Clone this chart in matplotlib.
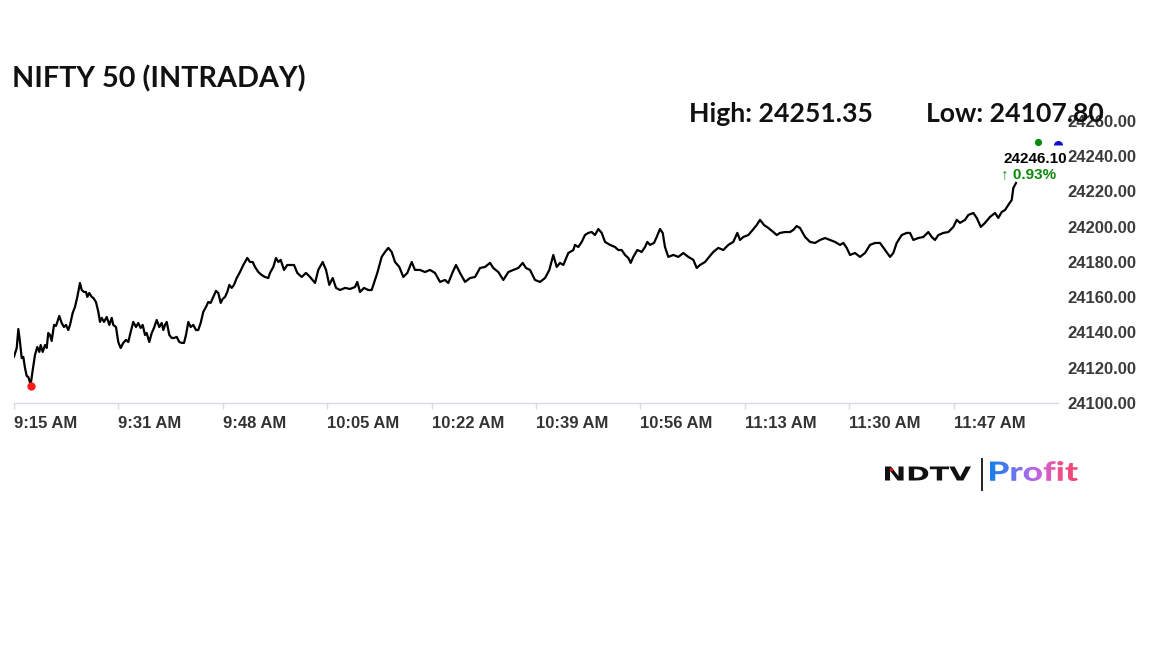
import numpy as np
import matplotlib
matplotlib.use("Agg")
import matplotlib.pyplot as plt
from matplotlib.textpath import TextPath
from matplotlib.patches import PathPatch
from matplotlib.font_manager import FontProperties
from matplotlib.transforms import Affine2D
from matplotlib.colors import LinearSegmentedColormap

# ---------------- data ----------------
minutes = [
    0.0, 0.44, 0.70, 0.97, 1.25, 1.51, 1.78, 2.06, 2.31, 2.70,
    3.03, 3.40, 3.77, 4.10, 4.32, 4.65, 5.02, 5.29, 5.55, 5.83,
    6.10, 6.48, 6.80, 7.33, 7.72, 8.09, 8.42, 8.79, 9.07, 9.50,
    9.87, 10.25, 10.68, 10.96, 11.33, 11.66, 11.87, 12.19, 12.58, 12.84,
    13.27, 13.65, 13.92, 14.20, 14.57, 15.01, 15.43, 15.82, 16.07, 16.51,
    16.88, 17.27, 17.69, 18.13, 18.50, 18.89, 19.31, 19.75, 20.12, 20.51,
    20.83, 21.21, 21.48, 21.90, 22.29, 22.66, 23.10, 23.52, 23.91, 24.17,
    24.44, 24.72, 25.14, 25.53, 25.90, 26.34, 26.76, 27.15, 27.52, 27.84,
    28.22, 28.60, 29.03, 29.46, 29.83, 30.22, 30.64, 31.08, 31.45, 31.84,
    32.26, 32.70, 33.07, 33.46, 33.78, 34.16, 34.53, 34.85, 35.24, 35.61, 36.05,
    36.58, 37.12, 37.77, 38.20, 38.64, 39.01, 39.55, 40.10, 40.63,
    41.17, 41.44, 41.98, 42.41, 42.79, 43.17, 43.71, 44.24, 44.79, 45.33,
    45.86, 46.57, 47.27, 47.92, 48.73, 49.26, 49.97, 50.51, 51.04, 51.59,
    52.13, 52.77, 53.58, 54.39, 55.20, 55.57, 56.01, 56.66, 57.35, 57.90,
    58.28, 58.81, 59.52, 60.06, 60.59, 61.14, 61.68, 62.37, 63.02, 63.67,
    64.38, 64.91, 65.72, 66.53, 67.34, 68.15, 68.96, 69.77, 70.30, 71.02,
    71.55, 72.20, 73.01, 73.82, 74.63, 75.44, 76.25, 77.06, 77.59, 78.40,
    79.21, 80.02, 80.83, 81.64, 82.35, 82.88, 83.53, 84.34, 85.15, 85.96,
    86.66, 87.30, 87.85, 88.39, 88.92, 89.73, 90.54, 90.81, 91.35, 91.90,
    92.43, 92.97, 93.52, 94.05, 94.59, 95.14, 95.67, 96.48, 97.29, 97.82,
    98.37, 98.91, 99.44, 99.83, 100.25, 100.90, 101.61, 102.15, 102.52, 102.96,
    103.60, 104.04, 104.57, 105.01, 105.38, 105.92, 106.73, 107.54, 108.35, 109.16,
    109.97, 110.52, 111.05, 111.86, 112.39, 113.20, 114.01, 114.82, 115.63, 116.44,
    117.09, 117.52, 118.06, 118.87, 119.58, 120.23, 120.76, 121.41, 122.11, 122.92,
    123.47, 124.00, 124.81, 125.62, 126.15, 126.70, 127.24, 128.05, 128.86, 129.67,
    130.48, 131.29, 132.09, 132.90, 133.71, 134.25, 134.80, 135.33, 136.14, 136.95,
    137.76, 138.57, 139.38, 140.19, 141.00, 141.81, 142.34, 142.89, 143.70, 144.51,
    145.04, 145.58, 146.39, 147.20, 148.01, 148.56, 149.09, 149.63, 150.44, 151.25,
    152.06, 152.61, 153.14, 153.95, 154.49, 155.30, 155.85, 156.50, 157.19, 158.00,
    158.81, 159.34, 159.89, 160.43, 160.96, 161.51, 161.77, 162.20,
]

prices = [
    24126.3, 24131.2, 24142.0, 24134.6, 24125.5, 24126.1, 24119.9, 24115.3, 24114.8, 24110.5,
    24118.7, 24127.3, 24131.8, 24129.0, 24132.9, 24129.0, 24132.9, 24131.2, 24139.7, 24138.6,
    24135.2, 24144.3, 24143.7, 24149.4, 24145.4, 24143.1, 24144.3, 24141.4, 24144.3, 24151.1,
    24154.5, 24160.2, 24168.1, 24164.1, 24163.0, 24163.0, 24160.2, 24162.4, 24160.2, 24159.6,
    24157.3, 24151.7, 24146.0, 24148.3, 24146.0, 24148.8, 24144.3, 24148.3, 24144.3, 24143.1,
    24134.6, 24131.2, 24134.1, 24135.8, 24134.6, 24140.3, 24146.0, 24143.1, 24145.4, 24142.6,
    24144.3, 24138.6, 24139.7, 24134.6, 24139.7, 24142.6, 24147.1, 24143.1, 24145.4, 24141.4,
    24144.3, 24146.0, 24138.6, 24136.9, 24136.9, 24137.5, 24134.6, 24134.1, 24134.1, 24138.6,
    24146.0, 24143.1, 24144.3, 24141.4, 24141.4, 24145.4, 24151.7, 24154.5, 24157.3, 24156.8,
    24160.2, 24163.6, 24162.4, 24156.8, 24159.0, 24160.2, 24163.0, 24167.0, 24165.3, 24167.0, 24170.9,
    24174.3, 24178.3, 24182.3, 24180.0, 24180.0, 24177.2, 24174.3, 24172.6, 24171.5,
    24170.9, 24173.8, 24177.2, 24182.3, 24180.0, 24181.2, 24175.5, 24178.3, 24178.3, 24178.3,
    24173.8, 24171.5, 24173.8, 24171.5, 24168.1, 24175.5, 24180.0, 24175.5, 24167.0, 24170.9,
    24165.3, 24164.1, 24165.3, 24164.7, 24165.8, 24168.7, 24163.0, 24165.3, 24164.1, 24164.1,
    24168.1, 24173.8, 24182.9, 24185.7, 24188.0, 24185.7, 24180.0, 24177.2, 24171.5, 24173.8,
    24180.0, 24175.5, 24175.5, 24174.3, 24175.5, 24173.8, 24168.7, 24169.8, 24168.1, 24174.3,
    24178.3, 24173.8, 24168.7, 24170.9, 24171.5, 24176.6, 24177.2, 24179.5, 24176.6, 24174.3,
    24169.8, 24174.3, 24175.5, 24176.6, 24179.5, 24176.6, 24175.5, 24169.8, 24168.7, 24170.9,
    24175.5, 24184.0, 24177.2, 24179.5, 24178.3, 24185.1, 24186.8, 24189.7, 24188.5, 24191.4,
    24195.3, 24196.5, 24197.0, 24195.3, 24198.7, 24196.5, 24191.4, 24189.7, 24188.5, 24186.8,
    24186.8, 24184.0, 24182.3, 24179.5, 24182.9, 24186.8, 24185.7, 24188.5, 24191.4, 24189.7,
    24190.8, 24194.2, 24198.7, 24196.5, 24188.5, 24182.9, 24184.0, 24182.9, 24185.1, 24182.9,
    24181.2, 24176.6, 24178.3, 24180.0, 24182.3, 24185.7, 24188.0, 24186.8, 24189.7, 24191.4,
    24196.5, 24192.5, 24194.2, 24195.3, 24198.2, 24201.0, 24203.9, 24201.0, 24199.3, 24197.0,
    24195.3, 24196.5, 24197.0, 24197.0, 24198.2, 24200.4, 24199.3, 24194.2, 24191.4, 24190.8,
    24192.5, 24193.6, 24192.5, 24191.4, 24189.7, 24190.8, 24188.0, 24184.0, 24185.1, 24182.9,
    24185.1, 24189.7, 24190.8, 24190.8, 24186.8, 24182.9, 24185.1, 24190.8, 24195.3, 24196.5,
    24196.5, 24192.5, 24193.6, 24194.2, 24197.0, 24194.2, 24192.5, 24195.3, 24196.5, 24197.0,
    24199.9, 24203.9, 24202.2, 24203.9, 24206.7, 24207.8, 24205.0, 24199.9, 24202.2, 24205.6,
    24207.8, 24205.0, 24208.4, 24209.5, 24212.4, 24215.2, 24222.0, 24224.8,
]
assert len(minutes) == len(prices), (len(minutes), len(prices))

tick_minutes = [0, 16.9, 33.8, 50.7, 67.6, 84.5, 101.4, 118.3, 135.2, 152.1]
tick_labels = ["9:15 AM", "9:31 AM", "9:48 AM", "10:05 AM", "10:22 AM",
               "10:39 AM", "10:56 AM", "11:13 AM", "11:30 AM", "11:47 AM"]
y_ticks = [24100, 24120, 24140, 24160, 24180, 24200, 24220, 24240, 24260]
x_end = 169.0

low_point = (2.70, 24109.5)
high_point = (165.7, 24248.0)
last_point = (169.0, 24246.10)

title = "NIFTY 50 (INTRADAY)"
high_text = "High: 24251.35"
low_text = "Low: 24107.80"
last_text = "24246.10"
change_text = "\u2191 0.93%"

# ---------------- figure ----------------
W, H = 1152, 648
fig = plt.figure(figsize=(W / 100, H / 100), dpi=100, facecolor="white")


def fx(x):
    return x / W


def fy(y):
    return 1 - y / H


L, R, T, B = 14, 1058, 121, 403
ax = fig.add_axes([fx(L), fy(B), (R - L) / W, (B - T) / H])
ax.set_facecolor("none")

ax.plot(minutes, prices, color="black", lw=1.6, solid_joinstyle="round", zorder=3)
ax.plot(*low_point, "o", color="#ff1a1a", ms=6, mec="none", zorder=4, clip_on=False)
ax.plot(*high_point, "o", color="#0a8a0a", ms=5.2, mec="none", zorder=4, clip_on=False)
ax.plot(*last_point, "o", color="#1010c8", ms=6.5, mec="none", fillstyle="top",
        markerfacecoloralt="none", zorder=4, clip_on=False)

ax.set_xlim(0, x_end)
ax.set_ylim(y_ticks[0], y_ticks[-1])

for s in ["top", "left", "right"]:
    ax.spines[s].set_visible(False)
ax.spines["bottom"].set_color("#d6dbe4")
ax.spines["bottom"].set_linewidth(1.0)

ax.set_xticks(tick_minutes)
ax.set_xticklabels(tick_labels, ha="left", fontweight="bold", fontsize=12,
                   family="Liberation Sans", color="#333333")
ax.tick_params(axis="x", length=4, width=1, color="#d6dbe4", direction="out", pad=5)

ax.yaxis.tick_right()
ax.set_yticks(y_ticks)
ax.set_yticklabels([f"{v:.2f}" for v in y_ticks], fontweight="bold", fontsize=12,
                   family="Liberation Sans", color="#3a3a3a")
ax.tick_params(axis="y", length=0, pad=7)

# ---------------- texts ----------------
fig.text(fx(12), fy(87), title, fontsize=20.7, fontweight="bold", family="Lato",
         ha="left", va="baseline", color="#111111")
fig.text(fx(689), fy(122), high_text, fontsize=19.2, fontweight="bold", family="Lato",
         ha="left", va="baseline", color="#111111")
fig.text(fx(926), fy(122), low_text, fontsize=19.2, fontweight="bold", family="Lato",
         ha="left", va="baseline", color="#111111", zorder=1)
fig.text(fx(1003), fy(163), last_text, fontsize=11, fontweight="bold",
         family="Liberation Sans", ha="left", va="baseline", color="#000000",
         zorder=10)
fig.text(fx(1001), fy(178), change_text, fontsize=11, fontweight="bold",
         family=["Liberation Sans", "DejaVu Sans"], ha="left", va="baseline",
         color="#0a8a0a", zorder=10)

# ---------------- logo ----------------
lax = fig.add_axes([0, 0, 1, 1], zorder=-1)
lax.set_axis_off()
lax.patch.set_visible(False)


def fit_path(text, prop, x0, x1, y0, y1):
    tp = TextPath((0, 0), text, size=100, prop=prop)
    ext = tp.get_extents()
    sx = (x1 - x0) / ext.width
    sy = (y1 - y0) / ext.height
    tr = Affine2D().translate(-ext.x0, -ext.y0).scale(sx, -sy).translate(x0, y1)
    return tr.transform_path(tp)


ndtv = fit_path("NDTV", FontProperties(family="DejaVu Sans", weight="bold"),
                885, 971, 466.5, 480.5)
lax.add_patch(PathPatch(ndtv, facecolor="#111111", edgecolor="none"))
lax.plot([891], [469], "o", color="#e01010", ms=2.6, mec="none")
lax.plot([981.5, 981.5], [459, 490], color="#222222", lw=1.4)

profit = fit_path("Profit", FontProperties(family="Lato", weight="black"),
                  990, 1078, 461, 481)
grad_cmap = LinearSegmentedColormap.from_list(
    "ndtvp", ["#1a7fe8", "#4d78f0", "#9b6cf0", "#d062d8", "#f04f8c", "#f2456f"])
grad = np.linspace(0, 1, 256).reshape(1, -1)
im = lax.imshow(grad, cmap=grad_cmap, extent=(990, 1078, 481, 461), aspect="auto",
                interpolation="bilinear")
clip = PathPatch(profit, transform=lax.transData, facecolor="none", edgecolor="none")
im.set_clip_path(clip)

lax.set_xlim(0, W)
lax.set_ylim(H, 0)

fig.savefig("out.png", dpi=100, facecolor="white")
